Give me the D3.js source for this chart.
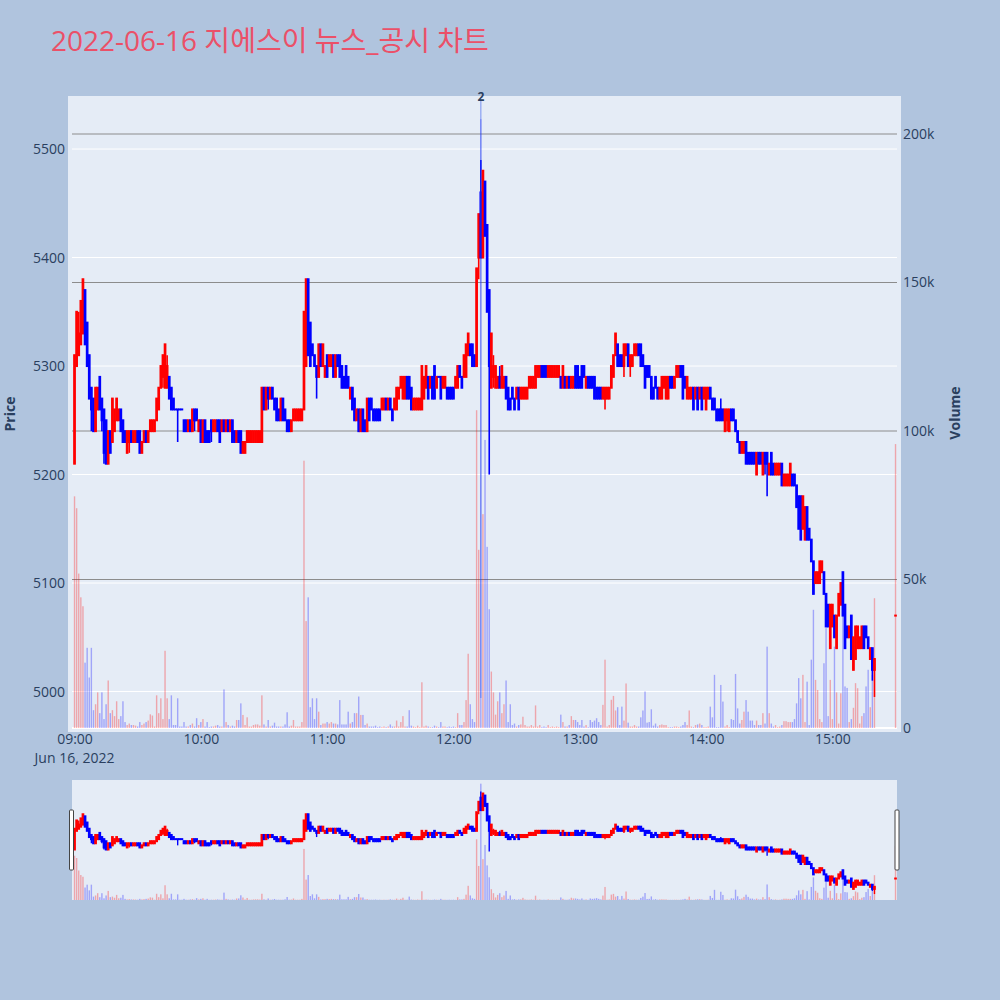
<!DOCTYPE html>
<html><head><meta charset="utf-8">
<script src="https://cdn.jsdelivr.net/npm/d3@7/dist/d3.min.js"></script>
<style>
html,body{margin:0;padding:0;background:#b0c4de;}
svg{display:block;font-family:"Open Sans","Noto Sans CJK KR",sans-serif;}
</style></head><body>
<svg id="chart" width="1000" height="1000"></svg>
<script>
const titleText = "2022-06-16 지에스이 뉴스_공시 차트";
const sessionStart = "09:00";      // one candle per minute from here
const closingAuction = "15:30";   // last element of each series
const priceTicks = [5000, 5100, 5200, 5300, 5400, 5500];
const volumeTicks = [0, 50, 100, 150, 200];           // thousands
const volumeTickLabels = ["0", "50k", "100k", "150k", "200k"];
const timeTicks = ["09:00", "10:00", "11:00", "12:00", "13:00", "14:00", "15:00"];
const dateLabel = "Jun 16, 2022";
const newsTimes = ["12:13"];
const newsCounts = [2];

const open = [
5210,5300,5310,5320,5330,5370,5340,5310,5280,5270,
5240,5260,5290,5270,5260,5250,5210,5240,5230,5240,
5250,5250,5260,5250,5240,5220,5230,5240,5230,5230,
5240,5240,5220,5230,5240,5230,5240,5240,5240,5250,
5260,5280,5290,5280,5280,5290,5280,5270,5260,5260,
5260,5260,5250,5250,5240,5250,5240,5260,5260,5240,
5250,5230,5250,5240,5240,5250,5240,5240,5250,5250,
5240,5250,5240,5250,5240,5250,5240,5230,5240,5240,
5220,5220,5230,5230,5230,5230,5230,5230,5230,5230,
5280,5260,5280,5270,5280,5270,5270,5260,5250,5270,
5260,5250,5250,5240,5250,5250,5250,5250,5250,5260,
5300,5380,5340,5320,5310,5300,5290,5320,5300,5290,
5310,5300,5300,5310,5290,5310,5310,5300,5290,5300,
5290,5270,5280,5270,5250,5260,5240,5260,5250,5240,
5270,5270,5260,5260,5260,5260,5260,5260,5270,5260,
5270,5260,5260,5260,5270,5280,5270,5270,5290,5290,
5280,5260,5260,5260,5260,5260,5270,5280,5290,5280,
5290,5300,5280,5290,5290,5280,5280,5280,5280,5280,
5280,5280,5280,5300,5290,5290,5290,5310,5320,5320,
5310,5300,5400,5460,5400,5470,5430,5370,5280,5290,
5280,5280,5290,5280,5280,5290,5280,5270,5280,5270,
5270,5280,5270,5270,5270,5270,5280,5280,5280,5280,
5290,5290,5300,5300,5300,5290,5290,5290,5290,5290,
5290,5290,5280,5290,5280,5290,5280,5280,5300,5300,
5290,5300,5300,5280,5290,5290,5290,5290,5280,5280,
5280,5270,5270,5270,5270,5280,5290,5310,5320,5310,
5310,5300,5310,5320,5300,5300,5310,5310,5320,5320,
5310,5300,5300,5300,5290,5280,5290,5280,5270,5270,
5280,5270,5270,5290,5290,5280,5290,5290,5300,5300,
5290,5270,5270,5270,5280,5270,5280,5270,5280,5270,
5260,5270,5280,5270,5270,5260,5260,5260,5260,5240,
5250,5240,5260,5260,5250,5240,5230,5220,5220,5230,
5220,5220,5220,5220,5200,5220,5220,5200,5220,5220,
5200,5220,5210,5200,5200,5200,5210,5190,5190,5190,
5190,5200,5200,5190,5180,5180,5150,5140,5170,5150,
5140,5120,5100,5100,5100,5110,5110,5090,5080,5040,
5060,5070,5040,5070,5080,5110,5080,5060,5050,5070,
5020,5030,5040,5040,5040,5060,5060,5050,5030,5040,
5020,5070];

const high = [
5310,5350,5350,5360,5380,5370,5340,5310,5280,5270,
5280,5280,5290,5270,5260,5250,5240,5240,5270,5260,
5270,5260,5260,5250,5240,5240,5240,5240,5240,5240,
5240,5240,5230,5240,5240,5240,5250,5250,5250,5270,
5280,5300,5310,5320,5310,5290,5280,5270,5260,5260,
5260,5260,5250,5250,5250,5250,5260,5260,5260,5250,
5250,5250,5250,5240,5240,5250,5250,5250,5250,5250,
5250,5250,5250,5250,5250,5250,5240,5240,5240,5240,
5230,5230,5240,5240,5240,5240,5240,5240,5240,5280,
5280,5280,5280,5280,5280,5270,5270,5260,5270,5270,
5260,5250,5250,5250,5260,5260,5260,5260,5260,5350,
5380,5380,5340,5320,5310,5300,5320,5320,5320,5300,
5310,5310,5310,5310,5310,5310,5310,5300,5290,5300,
5290,5280,5280,5270,5260,5260,5260,5260,5250,5270,
5270,5270,5260,5260,5260,5260,5270,5270,5270,5270,
5270,5260,5270,5280,5280,5290,5290,5290,5290,5290,
5280,5270,5270,5270,5270,5300,5290,5300,5290,5290,
5290,5300,5290,5290,5290,5290,5290,5280,5280,5280,
5280,5290,5300,5300,5290,5310,5320,5330,5320,5320,
5310,5390,5440,5490,5480,5470,5430,5370,5330,5310,
5300,5290,5300,5300,5290,5290,5280,5270,5280,5270,
5280,5280,5280,5280,5280,5280,5290,5290,5290,5300,
5300,5300,5300,5300,5300,5300,5300,5300,5300,5300,
5300,5290,5300,5290,5290,5290,5290,5290,5300,5300,
5290,5300,5300,5290,5290,5290,5290,5290,5280,5280,
5280,5280,5280,5280,5280,5300,5310,5330,5320,5310,
5310,5320,5320,5320,5310,5310,5320,5320,5320,5320,
5310,5300,5300,5300,5290,5280,5290,5280,5280,5290,
5290,5290,5290,5290,5290,5290,5300,5300,5300,5300,
5290,5290,5280,5280,5280,5280,5280,5280,5280,5280,
5280,5280,5280,5270,5270,5260,5260,5270,5260,5260,
5260,5260,5260,5260,5250,5240,5230,5230,5230,5230,
5220,5220,5220,5220,5220,5220,5220,5220,5220,5220,
5210,5220,5210,5210,5210,5210,5210,5200,5200,5200,
5210,5200,5200,5190,5180,5180,5180,5170,5170,5150,
5140,5120,5110,5110,5120,5120,5110,5090,5080,5080,
5080,5070,5070,5090,5100,5110,5080,5060,5060,5070,
5050,5060,5060,5050,5060,5060,5060,5050,5040,5040,
5030,5070];

const low = [
5210,5300,5310,5320,5330,5320,5300,5270,5240,5240,
5240,5260,5260,5240,5210,5210,5210,5220,5230,5240,
5250,5250,5240,5230,5230,5220,5220,5230,5230,5230,
5230,5220,5220,5230,5230,5230,5240,5240,5240,5250,
5260,5280,5280,5280,5280,5270,5260,5260,5260,5230,
5260,5260,5240,5240,5240,5240,5240,5240,5250,5240,
5230,5230,5230,5230,5230,5230,5240,5240,5240,5230,
5240,5240,5240,5240,5240,5230,5230,5230,5230,5220,
5220,5220,5230,5230,5230,5230,5230,5230,5230,5230,
5260,5260,5260,5270,5270,5260,5250,5250,5250,5250,
5250,5240,5240,5240,5250,5250,5250,5250,5250,5260,
5300,5310,5300,5310,5300,5270,5290,5300,5300,5290,
5290,5300,5300,5290,5290,5300,5290,5280,5280,5280,
5280,5270,5260,5250,5250,5240,5240,5240,5240,5240,
5250,5260,5250,5250,5250,5250,5260,5260,5260,5260,
5260,5250,5260,5260,5270,5280,5270,5270,5270,5270,
5260,5260,5260,5260,5260,5260,5270,5280,5270,5280,
5270,5270,5280,5290,5270,5280,5280,5270,5270,5270,
5270,5280,5280,5290,5280,5290,5290,5310,5310,5300,
5300,5300,5380,5400,5400,5420,5350,5200,5280,5280,
5280,5280,5280,5280,5280,5270,5260,5260,5270,5260,
5270,5260,5270,5270,5270,5270,5280,5280,5280,5280,
5290,5290,5290,5290,5290,5290,5290,5290,5290,5290,
5290,5280,5280,5280,5280,5280,5280,5280,5280,5280,
5280,5280,5290,5280,5280,5280,5280,5270,5270,5270,
5270,5270,5260,5270,5270,5280,5290,5310,5300,5300,
5300,5290,5310,5300,5290,5300,5310,5310,5310,5300,
5300,5280,5290,5290,5270,5270,5280,5270,5270,5270,
5280,5270,5270,5280,5280,5280,5290,5290,5290,5270,
5280,5270,5270,5270,5260,5270,5260,5270,5260,5270,
5260,5270,5270,5260,5260,5250,5250,5250,5250,5240,
5240,5240,5250,5250,5240,5230,5220,5220,5220,5210,
5210,5210,5210,5210,5200,5210,5210,5200,5200,5180,
5200,5200,5200,5200,5200,5200,5190,5190,5190,5190,
5190,5190,5190,5170,5150,5140,5150,5140,5140,5140,
5120,5090,5100,5100,5100,5110,5090,5060,5060,5040,
5060,5050,5040,5070,5080,5070,5040,5050,5050,5030,
5020,5030,5040,5040,5040,5040,5050,5040,5030,5010,
4995,5070];

const close = [
5310,5350,5330,5360,5380,5320,5300,5270,5260,5240,
5280,5280,5260,5250,5220,5210,5240,5220,5270,5260,
5270,5260,5240,5230,5230,5240,5240,5230,5240,5240,
5230,5220,5230,5240,5230,5240,5250,5250,5250,5270,
5280,5300,5310,5320,5300,5270,5260,5260,5260,5260,
5260,5260,5240,5240,5250,5240,5260,5250,5250,5250,
5230,5250,5230,5230,5230,5240,5250,5250,5240,5230,
5250,5240,5250,5240,5250,5230,5230,5240,5230,5220,
5230,5230,5240,5240,5240,5240,5240,5240,5240,5280,
5260,5280,5270,5280,5270,5260,5250,5250,5270,5250,
5250,5240,5240,5250,5260,5260,5260,5260,5260,5350,
5380,5310,5300,5310,5300,5290,5320,5300,5320,5300,
5290,5310,5310,5290,5310,5300,5290,5280,5280,5280,
5280,5280,5260,5250,5260,5240,5260,5240,5240,5270,
5250,5260,5250,5250,5250,5250,5270,5270,5260,5270,
5260,5250,5270,5280,5280,5290,5290,5290,5270,5270,
5260,5270,5270,5270,5270,5300,5290,5300,5270,5290,
5270,5270,5290,5290,5270,5290,5290,5270,5270,5270,
5270,5290,5300,5290,5280,5310,5320,5330,5310,5300,
5300,5390,5440,5400,5480,5420,5350,5300,5330,5300,
5300,5290,5280,5300,5290,5270,5260,5260,5270,5260,
5280,5260,5280,5280,5280,5280,5290,5290,5290,5300,
5300,5300,5290,5290,5290,5300,5300,5300,5300,5300,
5300,5280,5300,5280,5290,5280,5290,5290,5280,5280,
5280,5280,5290,5290,5280,5280,5280,5270,5270,5270,
5270,5280,5280,5280,5280,5300,5310,5330,5300,5300,
5300,5320,5320,5300,5310,5310,5320,5320,5310,5300,
5300,5280,5290,5290,5270,5270,5280,5270,5280,5290,
5290,5290,5290,5280,5280,5290,5300,5300,5290,5270,
5280,5290,5280,5280,5260,5280,5260,5280,5260,5280,
5280,5280,5270,5260,5260,5250,5250,5250,5250,5260,
5260,5260,5250,5250,5240,5230,5220,5230,5230,5210,
5210,5210,5210,5210,5220,5210,5210,5220,5210,5210,
5210,5200,5200,5210,5210,5210,5190,5200,5200,5200,
5210,5190,5190,5170,5150,5140,5180,5170,5140,5140,
5120,5090,5110,5110,5120,5120,5090,5060,5060,5080,
5080,5050,5070,5090,5100,5070,5040,5050,5060,5030,
5050,5060,5060,5050,5060,5040,5050,5040,5040,5020,
5030,5070];

// traded volume, thousands of shares
const volume = [
78,74,52,44,41,22,27,17,27,6,
8,12,5,12,3,8,16,5,6,4,
9,3,4,9,2,1,1.5,1,1,0.8,
0.5,2,1,1.5,2,2.5,4.6,4.2,0.5,11,
5,10,3,26,10,3,11,1,1,10,
0.5,0.5,2,0.5,0.5,1,1.5,0.5,3.3,1,
2,3,0.5,2,0.3,0.5,0.5,0.8,1,0.5,
0.5,13,2,1,0.5,0.8,0.5,2.7,2.7,8.3,
4.4,1,3.6,0.5,0.5,1,1.2,1.2,0.8,11,
1.2,0.5,2.7,0.5,0.8,1.8,0.5,0.5,0.5,0.5,
1.2,5.3,0.5,0.8,2.7,0.5,0.5,0.5,2,90,
36,44,7,10,3,10,5.5,1,1.5,1.5,
2,1.5,2,1.5,1.5,1.2,9.4,1.2,1.2,1.2,
5.5,1.5,2,5,5,10.6,4.4,4.4,1,1.5,
0.5,0.5,0.5,0.8,0.3,0.5,0.3,0.5,0.3,0.5,
1.2,0.5,0.5,2.5,0.5,2,4,0.5,0.5,6,
0.8,0.5,0.3,0.8,0.3,15.4,0.5,0.8,0.5,0.3,
0.3,0.8,0.5,0.3,2,0.5,0.5,0.3,0.5,0.3,
0.5,0.3,5,1,1,2,9.4,25,8,3,
2,107,60,205,72,97,61,40,19,12,
4.5,9,12,5,8,16,2,8,1,1.5,
0.5,1,1.2,3.8,1,0.5,0.5,1,0.5,7.6,
0.5,1,0.3,0.5,0.3,1,0.3,0.5,0.3,0.5,
0.3,4.5,2,0.5,0.5,1,4,2.7,2.7,2,
1,2.7,0.5,1,0.3,2.7,2,2.5,3.3,2,
1,7.8,23,0.5,1,9.5,10.8,5.9,7,1,
7.2,2.5,15,1.8,0.5,0.5,1,0.5,0.5,3.6,
5.9,12.3,1.8,2,6.3,0.8,1.5,0.5,1,1.2,
1,1,0.3,0.3,0.3,0.5,0.5,0.3,0.5,1,
2,1,5.9,0.5,0.3,1,1.2,1.5,1,0.3,
0.3,0.5,7.2,3.6,17.9,0.3,0.3,14.5,8.9,0.5,
1,0.3,3,2.7,18.2,6.6,1.5,2.7,5.5,9.4,
5.5,2.5,2.5,1,2.5,1,1,5,1.5,27.4,
5,1.5,0.5,1,0.3,0.5,1,2.3,2.3,2,
2,2,3,8.3,16.8,10,17.9,2,15.6,1,
23,39.8,16.2,12.8,3,2,21.8,33.6,4,16.2,
3,27.4,12,1.5,11.7,39.8,14,13.5,2,3,
6.8,15.1,13.4,1.5,4,5,14,19.6,7,17.9,
43.7,95.6];

// ---------- time index ----------
const parseT = s => { const [h, m] = s.split(":").map(Number); return new Date(2022, 5, 16, h, m); };
const t0 = parseT(sessionStart);
const N = close.length;
const times = close.map((_, i) => i === N - 1 ? parseT(closingAuction) : d3.timeMinute.offset(t0, i));
const idx = d3.range(N);

const INC = "#ff0000", DEC = "#0000ff";
const colorOf = i => {
  if (close[i] > open[i]) return INC;
  if (close[i] < open[i]) return DEC;
  return (i > 0 && close[i] > close[i - 1]) ? INC : DEC;
};

// ---------- scales ----------
const x = d3.scaleTime().domain([new Date(2022,5,16,8,58,48), new Date(2022,5,16,15,30,42)]).range([72, 897]);
const yP = d3.scaleLinear().domain([4966.4, 5545.2]).range([728, 100]);
const yV = d3.scaleLinear().domain([0, 211.45]).range([728, 100]);
const yPs = d3.scaleLinear().domain([4966.4, 5545.2]).range([900, 780]);
const yVs = d3.scaleLinear().domain([0, 211.45]).range([900, 780]);

const svg = d3.select("#chart");
svg.append("rect").attr("width", 1000).attr("height", 1000).attr("fill", "#b0c4de");

// title
svg.append("text").attr("x", 51).attr("y", 51).attr("font-size", 28)
  .attr("fill", "#eb5068").text(titleText);

// plot background
svg.append("rect").attr("x", 68).attr("y", 96).attr("width", 833).attr("height", 636).attr("fill", "#e5ecf6");

const defs = svg.append("defs");
defs.append("clipPath").attr("id", "clipMain").append("rect").attr("x", 68).attr("y", 96).attr("width", 833).attr("height", 636);
defs.append("clipPath").attr("id", "clipSl").append("rect").attr("x", 72).attr("y", 780).attr("width", 825).attr("height", 120);

// grid
const grid = svg.append("g");
grid.selectAll("line.pg").data(priceTicks).join("line")
  .attr("x1", 72).attr("x2", 897).attr("y1", d => yP(d)).attr("y2", d => yP(d))
  .attr("stroke", "#ffffff").attr("stroke-width", 1);
grid.selectAll("line.vg").data(volumeTicks.filter(v => v > 0)).join("line")
  .attr("x1", 72).attr("x2", 897).attr("y1", d => yV(d)).attr("y2", d => yV(d))
  .attr("stroke", "#8c8c8c").attr("stroke-width", 1);
grid.append("line").attr("x1", 72).attr("x2", 897).attr("y1", yV(0)).attr("y2", yV(0))
  .attr("stroke", "#ffffff").attr("stroke-width", 2);

function drawSeries(g, ys, yv, barW, bodyW, wickW) {
  g.selectAll("rect.vol").data(idx).join("rect").attr("class", "vol")
    .attr("x", i => x(times[i]) - barW / 2).attr("width", barW)
    .attr("y", i => yv(volume[i])).attr("height", i => yv(0) - yv(volume[i]))
    .attr("fill", colorOf).attr("fill-opacity", 0.3);
  g.selectAll("line.wick").data(idx).join("line").attr("class", "wick")
    .attr("x1", i => x(times[i])).attr("x2", i => x(times[i]))
    .attr("y1", i => ys(high[i])).attr("y2", i => ys(low[i]))
    .attr("stroke", colorOf).attr("stroke-width", wickW);
  g.selectAll("rect.body").data(idx).join("rect").attr("class", "body")
    .attr("x", i => x(times[i]) - bodyW / 2).attr("width", bodyW)
    .attr("y", i => Math.min(ys(open[i]), ys(close[i])) - 1)
    .attr("height", i => Math.abs(ys(open[i]) - ys(close[i])) + 2)
    .attr("fill", colorOf);
}

const main = svg.append("g").attr("clip-path", "url(#clipMain)");
drawSeries(main, yP, yV, 1.4, 2.7, 1.6);

// news annotation
newsTimes.forEach((t, k) => {
  const nx = x(parseT(t));
  svg.append("line").attr("x1", nx).attr("x2", nx).attr("y1", 101).attr("y2", 698)
    .attr("stroke", "rgba(40,80,240,0.45)").attr("stroke-width", 1.3);
  svg.append("text").attr("x", nx).attr("y", 100.5).attr("text-anchor", "middle")
    .attr("font-size", 12).attr("font-weight", 700).attr("fill", "#2a3f5f").text(newsCounts[k]);
});

// axes
const styleAxis = g => {
  g.select(".domain").remove();
  g.selectAll("text").attr("font-size", 14).attr("font-family", '"Open Sans", sans-serif').attr("fill", "#2a3f5f");
  g.attr("font-size", null).attr("font-family", null);
};
svg.append("g").attr("transform", "translate(72,0)")
  .call(d3.axisLeft(yP).tickValues(priceTicks).tickSize(0).tickPadding(7).tickFormat(d3.format("d")))
  .call(styleAxis);
svg.append("g").attr("transform", "translate(897,0)")
  .call(d3.axisRight(yV).tickValues(volumeTicks).tickSize(0).tickPadding(6).tickFormat((d, i) => volumeTickLabels[i]))
  .call(styleAxis);
svg.append("g").attr("transform", "translate(0,728)")
  .call(d3.axisBottom(x).tickValues(timeTicks.map(parseT)).tickSize(0).tickPadding(6).tickFormat(d3.timeFormat("%H:%M")))
  .call(styleAxis);
svg.append("text").attr("x", x(parseT(timeTicks[0]))).attr("y", 763).attr("text-anchor", "middle")
  .attr("font-size", 14).attr("fill", "#2a3f5f").text(dateLabel);

// axis titles
svg.append("text").attr("transform", "translate(15,414) rotate(-90)").attr("text-anchor", "middle")
  .attr("font-size", 14).attr("font-weight", 700).attr("fill", "#2a3f5f").text("Price");
svg.append("text").attr("transform", "translate(960,413) rotate(-90)").attr("text-anchor", "middle")
  .attr("font-size", 14).attr("font-weight", 700).attr("fill", "#2a3f5f").text("Volume");

// range slider
svg.append("rect").attr("x", 72).attr("y", 780).attr("width", 825).attr("height", 120).attr("fill", "#e5ecf6");
const sl = svg.append("g").attr("clip-path", "url(#clipSl)");
drawSeries(sl, yPs, yVs, 1.4, 2.7, 1.4);
[69.5, 895].forEach(hx => {
  svg.append("rect").attr("x", hx).attr("y", 810).attr("width", 4).attr("height", 60)
    .attr("rx", 1).attr("fill", "#ffffff").attr("stroke", "#444").attr("stroke-width", 1);
});
</script></body></html>
